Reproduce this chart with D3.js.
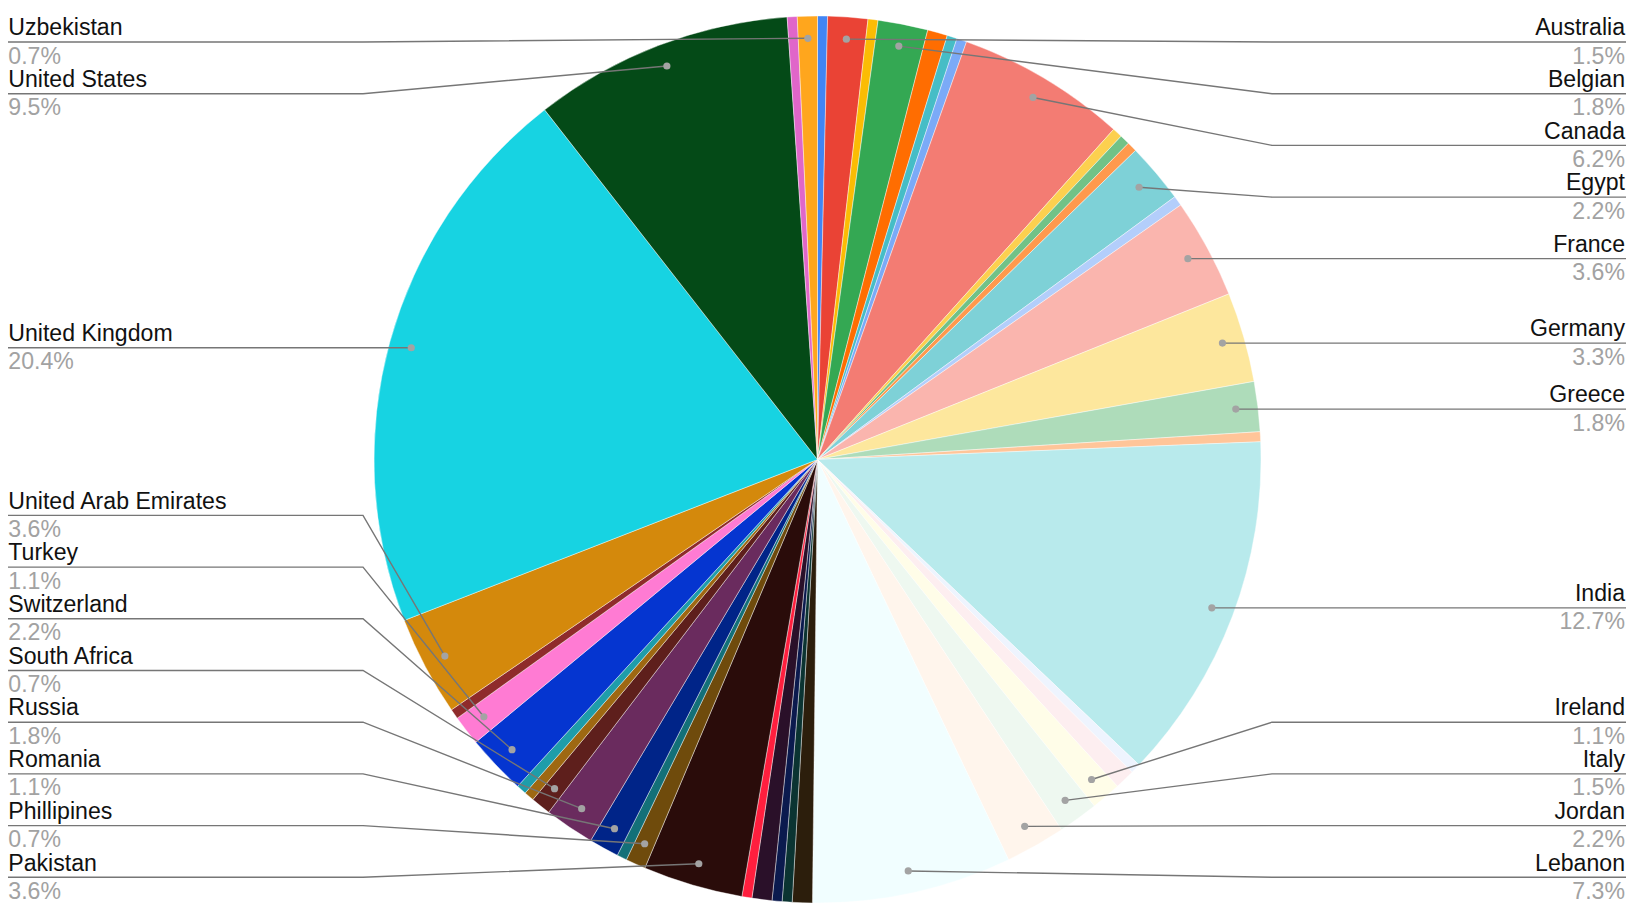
<!DOCTYPE html>
<html>
<head>
<meta charset="utf-8">
<script src="https://cdn.jsdelivr.net/npm/d3@7"></script>
<style>
  html, body { margin: 0; padding: 0; background: #fff; }
  svg { display: block; }
  text { font-family: "Liberation Sans", Arial, sans-serif; }
</style>
</head>
<body>
<svg id="chart" width="1635" height="921"></svg>
<script>
// ---- Data (alphabetical, clockwise from 12 o'clock) ----
const countries = [
  "Algeria", "Australia", "Bahrain", "Belgian", "Brazil", "Bulgaria", "Cameroon",
  "Canada", "China", "Cyprus", "Denmark", "Egypt", "Finland", "France", "Germany",
  "Greece", "Hungary", "India", "Indonesia", "Iraq", "Ireland", "Italy", "Jordan",
  "Lebanon", "Malaysia", "Morocco", "Netherlands", "Nigeria", "Oman", "Pakistan",
  "Phillipines", "Qatar", "Romania", "Russia", "South Africa", "Spain", "Sweden",
  "Switzerland", "Turkey", "Ukraine", "United Arab Emirates", "United Kingdom",
  "United States", "Uruguay", "Uzbekistan"
];
const counts = [
  1, 4, 1, 5, 2, 1, 1,
  17, 1, 1, 1, 6, 1, 10, 9,
  5, 1, 35, 1, 2, 3, 4, 6,
  20, 2, 1, 1, 2, 1, 10,
  2, 1, 3, 5, 2, 1, 1,
  6, 3, 1, 10, 56,
  26, 1, 2
];
const sliceColors = [
  "#4285F4", "#EA4335", "#FBBC04", "#34A853", "#FF6D01", "#46BDC6", "#7BAAF7",
  "#F37C73", "#FCD04F", "#71C287", "#FF994D", "#7ED1D7", "#B3CEFB", "#FAB5AE", "#FDE79D",
  "#AEDCBA", "#FFC599", "#B8EAEC", "#EEF4FE", "#FDEEF0", "#FFFDE8", "#EEF8F0", "#FFF5EC",
  "#F1FEFF", "#2C1E0C", "#0B3432", "#0B1A4E", "#2A1029", "#FF1F3E", "#2A0C0A",
  "#6F4B0C", "#137078", "#002488", "#6A2B5E", "#5E1F1C", "#9E6812", "#1E9DAA",
  "#0535D0", "#FF7BD3", "#8F2B2B", "#D4890C", "#17D3E2",
  "#044A17", "#E066C9", "#FFA61D"
];
const labeledCountries = [
  "Australia", "Belgian", "Canada", "Egypt", "France", "Germany", "Greece", "India",
  "Ireland", "Italy", "Jordan", "Lebanon", "Pakistan", "Phillipines", "Romania",
  "Russia", "South Africa", "Switzerland", "Turkey", "United Arab Emirates",
  "United Kingdom", "United States", "Uzbekistan"
];

// ---- Layout ----
const cx = 817.5, cy = 459.5, R = 443.5;
const dotR = R * 0.95;
const bendOffset = 454.5;
const leftEdge = 8, rightEdge = 1626;
const labelTop = 42, labelBottom = 877.3, labelGap = 51.7;
const fontSize = 23.1;

const data = countries.map((c, i) => ({ name: c, value: counts[i], color: sliceColors[i] }));
const total = d3.sum(counts);

const svg = d3.select("#chart");
const g = svg.append("g").attr("transform", `translate(${cx},${cy})`);

const pie = d3.pie().value(d => d.value).sort(null).startAngle(0).endAngle(2 * Math.PI);
const arcs = pie(data);
const arc = d3.arc().innerRadius(0).outerRadius(R);

g.selectAll("path.slice")
  .data(arcs)
  .join("path")
  .attr("class", "slice")
  .attr("d", arc)
  .attr("fill", d => d.data.color)
  .attr("stroke", "#ffffff")
  .attr("stroke-width", 0.6)
  .attr("stroke-opacity", 0.7);

// ---- Labels ----
const labels = arcs.filter(a => labeledCountries.includes(a.data.name)).map(a => {
  const mid = (a.startAngle + a.endAngle) / 2;
  const dx = cx + dotR * Math.sin(mid);
  const dy = cy - dotR * Math.cos(mid);
  return {
    name: a.data.name,
    pct: (a.data.value / total * 100).toFixed(1) + "%",
    dx, dy,
    side: mid < Math.PI ? "right" : "left",
    y: dy
  };
});

function layoutSide(list) {
  list.sort((a, b) => a.dy - b.dy);
  let prev = -Infinity;
  list.forEach(l => {
    l.y = Math.max(l.dy, labelTop, prev + labelGap);
    prev = l.y;
  });
  let next = Infinity;
  for (let i = list.length - 1; i >= 0; i--) {
    const l = list[i];
    l.y = Math.min(l.y, labelBottom, next - labelGap);
    next = l.y;
  }
}
layoutSide(labels.filter(l => l.side === "left"));
layoutSide(labels.filter(l => l.side === "right"));

const lineGen = d3.line();
const lg = svg.append("g");
labels.forEach(l => {
  const edgeX = l.side === "left" ? leftEdge : rightEdge;
  const bendX = l.side === "left" ? cx - bendOffset : cx + bendOffset;
  lg.append("path")
    .attr("d", lineGen([[edgeX, l.y], [bendX, l.y], [l.dx, l.dy]]))
    .attr("fill", "none")
    .attr("stroke", "#767676")
    .attr("stroke-width", 1.4);
});
labels.forEach(l => {
  lg.append("circle")
    .attr("cx", l.dx).attr("cy", l.dy).attr("r", 3.6)
    .attr("fill", "#a3a3a3");
});
labels.forEach(l => {
  const x = l.side === "left" ? leftEdge + 0.3 : rightEdge - 1;
  const anchor = l.side === "left" ? "start" : "end";
  lg.append("text")
    .attr("x", x).attr("y", l.y - 6.8)
    .attr("text-anchor", anchor)
    .attr("font-size", fontSize)
    .attr("fill", "#111111")
    .text(l.name);
  lg.append("text")
    .attr("x", x).attr("y", l.y + 21.5)
    .attr("text-anchor", anchor)
    .attr("font-size", fontSize)
    .attr("fill", "#a2a2a2")
    .text(l.pct);
});
</script>
</body>
</html>
